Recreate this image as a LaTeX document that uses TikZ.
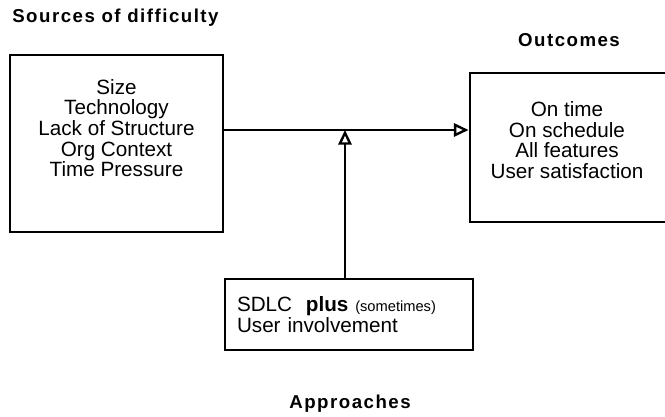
\documentclass[tikz,border=0pt]{standalone}
\usepackage{fontspec}
\setmainfont{Liberation Sans}
\newfontfamily\headfont{Liberation Sans}[LetterSpace=8]
\usepackage{tikz}
\usetikzlibrary{arrows.meta}

\tikzset{
  box/.style={draw,line width=2.2pt,inner sep=0pt},
  boxtext/.style={font=\fontsize{15.5}{15.5}\selectfont},
  head/.style={font=\headfont\bfseries\fontsize{14}{16}\selectfont,inner sep=0pt},
  flow/.style={line width=2.2pt,-{Triangle[open,length=11pt,width=10pt,line width=1.8pt]}}
}

\begin{document}
\begin{tikzpicture}[x=0.75pt,y=-0.75pt]
  \useasboundingbox (0,0) rectangle (665,417);
  \clip (0,0) rectangle (665,417);
  % the three boxes
  \node[box,minimum width=159.75pt,minimum height=132.75pt] (src) at (116.5,143.5) {};
  \node[boxtext,align=center] at (116.5,128) {Size\\Technology\\Lack of Structure\\Org Context\\Time Pressure};
  \node[box,minimum width=165pt,minimum height=111.75pt] (out) at (580,147.5) {};
  \node[boxtext,align=center] at (567,140) {On time\\On schedule\\All features\\User satisfaction};
  \node[box,boxtext,minimum width=186pt,minimum height=53.25pt,text width=168pt,align=left,inner xsep=9pt] (app) at (349,314.5)
    {SDLC\ \ \textbf{plus} {\fontsize{11}{12}\selectfont(sometimes)}\\User involvement};
  % headings
  \node[head,anchor=west] (srchead) at (12,18) {Sources of difficulty};
  \node[head] (outhead) at (569,40) {Outcomes};
  \node[head] (apphead) at (350,404) {Approaches};
  % connectors
  \coordinate (join) at (345,130);
  \draw[flow] (src.east |- join) -- (out.west |- join);
  \draw[flow] (app.north -| join) -- (join);
\end{tikzpicture}
\end{document}
